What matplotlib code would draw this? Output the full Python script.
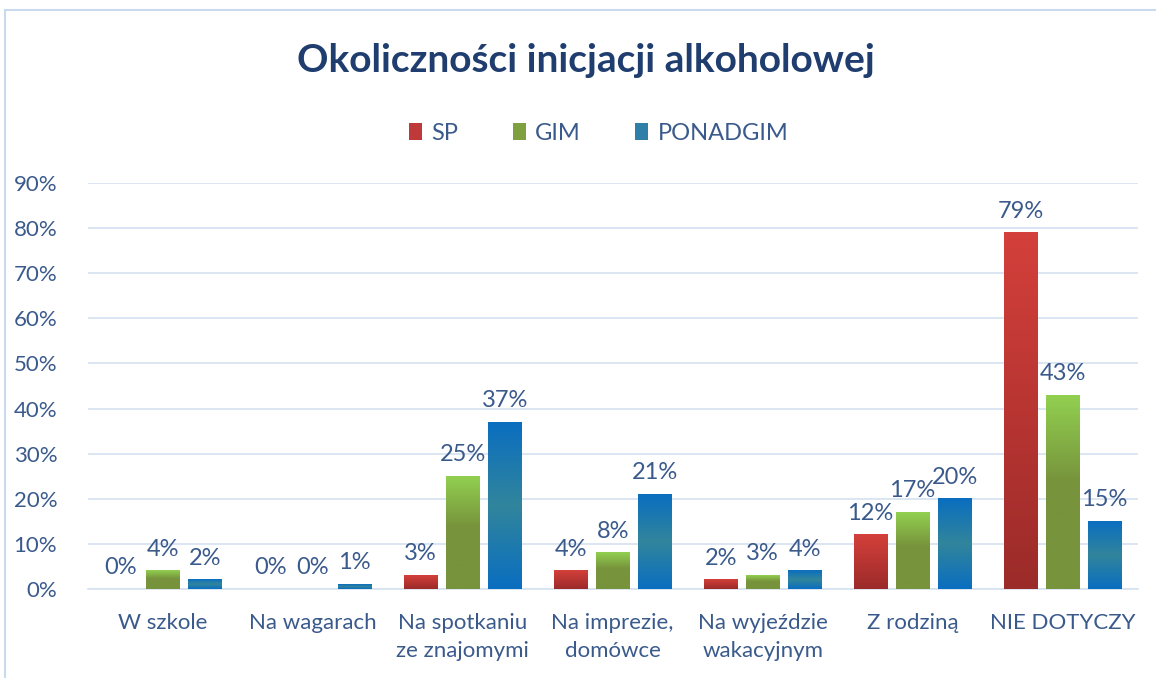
import numpy as np
import matplotlib
matplotlib.use("Agg")
import matplotlib.pyplot as plt
from matplotlib.colors import LinearSegmentedColormap
from matplotlib.patches import Patch, Rectangle

plt.rcParams['font.family'] = ['Lato', 'DejaVu Sans']

# data
categories = ["W szkole", "Na wagarach", "Na spotkaniu\nze znajomymi", "Na imprezie,\ndomówce",
              "Na wyjeździe\nwakacyjnym", "Z rodziną", "NIE DOTYCZY"]
series_names = ["SP", "GIM", "PONADGIM"]
sp = [0.00, 0.00, 0.03, 0.04, 0.02, 0.12, 0.79]
gim = [0.04, 0.00, 0.25, 0.08, 0.03, 0.17, 0.43]
ponadgim = [0.02, 0.01, 0.37, 0.21, 0.04, 0.20, 0.15]

# gradients (bottom -> top)
cmaps = [
    LinearSegmentedColormap.from_list("sp", ["#9b2b29", "#b83532", "#d4403b"]),
    LinearSegmentedColormap.from_list("gim", [(0, "#77933c"), (0.55, "#77933c"), (1, "#92d050")]),
    LinearSegmentedColormap.from_list("pon", [(0, "#0a6ec0"), (0.5, "#31859c"), (1, "#0a6ec0")]),
]
legend_cols = ["#c0393a", "#7fa03f", "#2f80a8"]
text_col = "#3a5a8c"

fig = plt.figure(figsize=(11.56, 6.78), dpi=100)
ax = fig.add_axes([0.076, 0.1313, 0.908, 0.5987])

# outer chart border
fig.patches.append(Rectangle((5 / 1156, -0.01), 1.2, 1 - 10 / 678 + 0.01, transform=fig.transFigure,
                             fill=False, edgecolor="#c9d9ee", linewidth=1.5))

x = np.arange(len(categories))
step = 0.28
width = 0.225
grad = np.linspace(0, 1, 256).reshape(-1, 1)
for i, vals in enumerate([sp, gim, ponadgim]):
    bars = ax.bar(x + (i - 1) * step, vals, width, color="none", edgecolor="none", zorder=3)
    for b, v in zip(bars, vals):
        if v > 0:
            ax.imshow(grad, extent=[b.get_x(), b.get_x() + b.get_width(), 0, v], origin="lower",
                      aspect="auto", cmap=cmaps[i], zorder=3)
        ax.annotate(f"{v:.0%}", (b.get_x() + b.get_width() / 2, v), xytext=(0, 8),
                    textcoords="offset points", ha="center", va="bottom", fontsize=17, color=text_col)

ax.set_xlim(-0.5, len(categories) - 0.5)
ax.set_ylim(0, 0.9)
ax.set_yticks(np.arange(0, 0.91, 0.1))
ax.set_yticklabels([f"{int(round(t * 100))}%" for t in np.arange(0, 0.91, 0.1)], fontsize=16, color=text_col)
ax.set_xticks(x)
ax.set_xticklabels(categories, fontsize=16, color=text_col, linespacing=1.55)
ax.tick_params(axis="both", length=0)
ax.tick_params(axis="y", pad=22)
ax.tick_params(axis="x", pad=17)
ax.grid(axis="y", color="#d6e2f1", linewidth=1.2, zorder=0)
ax.set_axisbelow(True)
for s in ["top", "right", "left"]:
    ax.spines[s].set_visible(False)
ax.spines["bottom"].set_color("#d6e2f1")
ax.spines["bottom"].set_linewidth(1.2)

handles = [Patch(facecolor=c, edgecolor="none") for c in legend_cols]
fig.legend(handles, series_names, loc="center", bbox_to_anchor=(0.518, 1 - 133 / 678), ncol=3,
           frameon=False, fontsize=17, labelcolor=text_col, handlelength=0.55, handleheight=0.7,
           handletextpad=0.4, columnspacing=2.3)

fig.text(0.507, 1 - 61 / 678, "Okoliczności inicjacji alkoholowej", ha="center", va="center",
         fontsize=28, fontweight="bold", color="#1f3d6e")

fig.savefig("out.png", dpi=100)
